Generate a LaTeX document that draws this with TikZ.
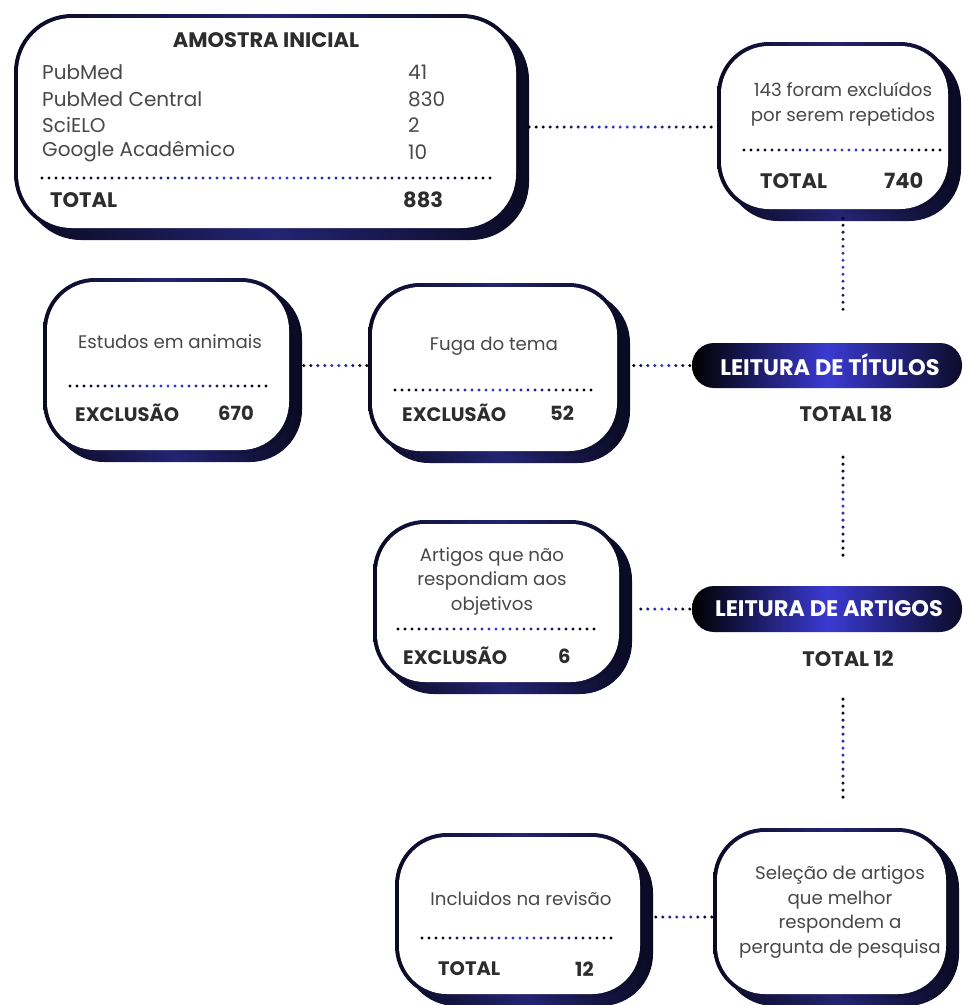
\documentclass[tikz,border=0pt]{standalone}
\usepackage{fontspec}
\setmainfont{Poppins}
\usetikzlibrary{calc,fit,decorations.markings}
\definecolor{dotblue}{RGB}{58,58,225}
\definecolor{navymid}{RGB}{36,36,115}
\definecolor{navyedge}{RGB}{10,10,34}
\definecolor{pillc}{RGB}{58,58,210}
\definecolor{txt}{RGB}{72,72,72}
\definecolor{btxt}{RGB}{45,45,45}
\tikzset{
  gdots/.style={decoration={markings,
      mark=between positions 0 and 1 step 7pt with {%
        \pgfmathtruncatemacro\bl{round(100*(1-abs(2*\pgfkeysvalueof{/pgf/decoration/mark info/distance from start}/\pgfdecoratedpathlength-1)))}%
        \fill[dotblue!\bl!black] (0,0) circle (1.7pt);}},
    postaction={decorate}},
  boxshade/.style={left color=navyedge, right color=navyedge, middle color=navymid},
  pillshading/.style={left color=black, right color=black!80!pillc, middle color=pillc},
  body/.style={text=txt, font=\fontsize{18.2}{24.5}\selectfont, inner sep=0pt, align=center},
  bodybig/.style={text=txt, font=\fontsize{20}{24}\selectfont, inner sep=0pt, anchor=west},
  boldt/.style={text=btxt, font=\bfseries\fontsize{19.5}{22}\selectfont, inner sep=0pt},
  boldbig/.style={text=btxt, font=\bfseries\fontsize{21}{24}\selectfont, inner sep=0pt},
  pilltext/.style={text=white, font=\bfseries\fontsize{22.5}{26}\selectfont, inner sep=0pt},
}
\newcommand\gbox[6]{%
  \pgfmathsetmacro\innr{#6-4}%
  \shade[boxshade, rounded corners=#6pt] (#2+9,#3+8) rectangle (#4+9,#5+8);
  \shade[boxshade, rounded corners=#6pt] (#2,#3) rectangle (#4,#5);
  \fill[white, rounded corners=\innr pt] (#2+4,#3+4) rectangle (#4-4,#5-4);
  \node[fit={(#2,#3) (#4+9,#5+8)}, inner sep=0pt] (#1) {};
}
\newcommand\gpill[5]{%
  \shade[pillshading, rounded corners=22pt] (#2,#3) rectangle (#4,#5);
  \node[fit={(#2,#3) (#4,#5)}, inner sep=0pt] (#1) {};
}
\begin{document}
\begin{tikzpicture}[x=1pt,y=-1pt]
\useasboundingbox (0,0) rectangle (964,1005);
\fill[white] (0,0) rectangle (964,1005);

% boxes
\gbox{amostra}{14}{14}{520}{232}{58}
\gbox{repet}{717}{42}{952}{213}{52}
\gbox{estudos}{43}{278}{293}{454}{52}
\gbox{fuga}{368}{283}{621}{455}{52}
\gbox{artigos}{373}{520}{623}{686}{52}
\gbox{incl}{395}{833}{644}{998}{52}
\gbox{selecao}{713}{828}{950}{998}{52}
\gpill{titulos}{692}{343}{962}{388}
\gpill{artp}{692}{586}{962}{632}

% box 1 text
\node[boldbig] (a0) at (266,40) {AMOSTRA INICIAL};
\node[bodybig] (a1) at (42,72) {PubMed};
\node[bodybig] (a2) at (42,99) {PubMed Central};
\node[bodybig] (a3) at (42,125) {SciELO};
\node[bodybig] (a4) at (42,152) {Google Acadêmico};
\node[bodybig] (n1) at (408,72) {41};
\node[bodybig] (n2) at (408,99) {830};
\node[bodybig] (n3) at (408,125) {2};
\node[bodybig] (n4) at (408,152) {10};
\path[gdots] (42,178) -- (490,178);
\node[boldbig, anchor=west] (atot) at (50,200) {TOTAL};
\node[boldbig, anchor=west] (anum) at (403,200) {883};

% box 2
\node[body] (rtxt) at (843,104) {143 foram excluídos\\por serem repetidos};
\path[gdots] (744,150) -- (940,150);
\node[boldbig, anchor=west] (rtot) at (760,181) {TOTAL};
\node[boldbig, anchor=west] (rnum) at (884,181) {740};

% estudos
\node[body] (etxt) at (170,342) {Estudos em animais};
\path[gdots] (70,386) -- (266,386);
\node[boldt, anchor=west] (eexc) at (75,413) {EXCLUSÃO};
\node[boldt, anchor=west] (enum) at (218,413) {670};

% fuga
\node[body] (ftxt) at (494,346) {Fuga do tema};
\path[gdots] (395,390) -- (592,390);
\node[boldt, anchor=west] (fexc) at (402,413) {EXCLUSÃO};
\node[boldt, anchor=west] (fnum) at (550,413) {52};

% pills
\node[pilltext] (tt) at (830,365) {LEITURA DE TÍTULOS};
\node[boldbig] (t18) at (846,414) {TOTAL 18};
\node[pilltext] (ta) at (829,609) {LEITURA DE ARTIGOS};
\node[boldbig] (t12) at (848,659) {TOTAL 12};

% artigos box
\node[body] (artxt) at (492,581) {Artigos que não\\respondiam aos\\objetivos};
\path[gdots] (398,629) -- (594,629);
\node[boldt, anchor=west] (arexc) at (403,656) {EXCLUSÃO};
\node[boldt, anchor=west] (arnum) at (558,656) {6};

% incluidos
\node[body] (itxt) at (521,899) {Incluidos na revisão};
\path[gdots] (422,938) -- (617,938);
\node[boldt, anchor=west] (itot) at (438,969) {TOTAL};
\node[boldt, anchor=west] (inum) at (575,969) {12};

% selecao
\node[body] (stxt) at (840,912) {Seleção de artigos\\que melhor\\respondem a\\pergunta de pesquisa};

% connectors
\path[gdots] (amostra.east) -- (amostra.east -| repet.west);
\path[gdots] ($(repet.south)+(4,-3)$) -- ($(repet.south |- titulos.north)+(4,-28)$);
\path[gdots] ([xshift=-2pt]titulos.west) -- ([xshift=3pt]titulos.west -| fuga.east);
\path[gdots] ([xshift=-1pt]fuga.west |- titulos.west) -- ([xshift=1pt]estudos.east |- titulos.west);
\path[gdots] ($(t18.south)+(-3,35)$) -- ($(t18.south |- artp.north)+(-3,-30)$);
\path[gdots] ([xshift=-2pt]artp.west) -- ([xshift=2pt]artp.west -| artigos.east);
\path[gdots] ($(t12.south)+(-5,32)$) -- ($(t12.south |- selecao.north)+(-5,-28)$);
\path[gdots] ([xshift=-1pt]selecao.west) -- ([xshift=-3pt]selecao.west -| incl.east);
\end{tikzpicture}
\end{document}
